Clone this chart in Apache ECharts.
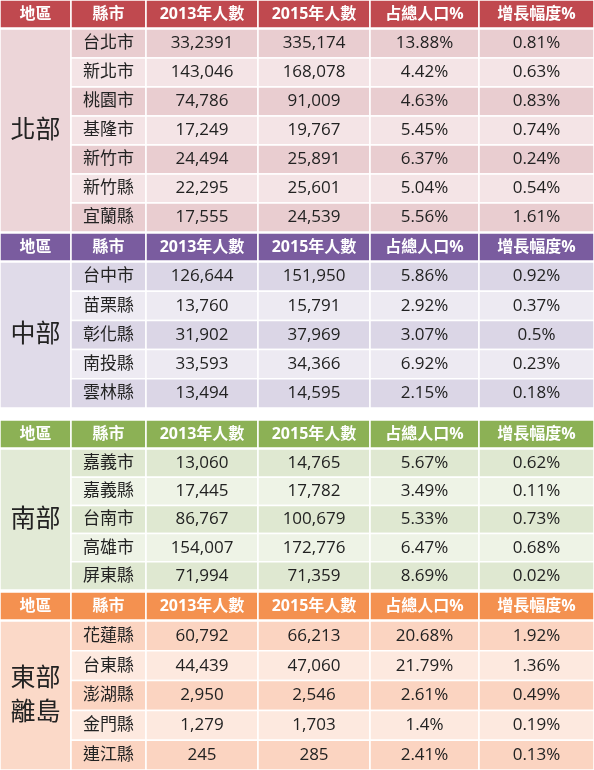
<!DOCTYPE html><html><head><meta charset="utf-8"><script src="https://cdn.jsdelivr.net/npm/echarts@6/dist/echarts.min.js"></script>
<style>html,body{margin:0;padding:0;background:#fff}#c{width:594px;height:770px}</style></head><body><div id="c"></div><script>
const headers=['地區','縣市','2013年人數','2015年人數','占總人口%','增長幅度%'];
const regions=['北部','中部','南部','東部\n離島'];
const northCities=['台北市','新北市','桃園市','基隆市','新竹市','新竹縣','宜蘭縣'];
const north2013=['33,2391','143,046','74,786','17,249','24,494','22,295','17,555'];
const north2015=['335,174','168,078','91,009','19,767','25,891','25,601','24,539'];
const northShare=['13.88%','4.42%','4.63%','5.45%','6.37%','5.04%','5.56%'];
const northGrowth=['0.81%','0.63%','0.83%','0.74%','0.24%','0.54%','1.61%'];
const centralCities=['台中市','苗栗縣','彰化縣','南投縣','雲林縣'];
const central2013=['126,644','13,760','31,902','33,593','13,494'];
const central2015=['151,950','15,791','37,969','34,366','14,595'];
const centralShare=['5.86%','2.92%','3.07%','6.92%','2.15%'];
const centralGrowth=['0.92%','0.37%','0.5%','0.23%','0.18%'];
const southCities=['嘉義市','嘉義縣','台南市','高雄市','屏東縣'];
const south2013=['13,060','17,445','86,767','154,007','71,994'];
const south2015=['14,765','17,782','100,679','172,776','71,359'];
const southShare=['5.67%','3.49%','5.33%','6.47%','8.69%'];
const southGrowth=['0.62%','0.11%','0.73%','0.68%','0.02%'];
const eastCities=['花蓮縣','台東縣','澎湖縣','金門縣','連江縣'];
const east2013=['60,792','44,439','2,950','1,279','245'];
const east2015=['66,213','47,060','2,546','1,703','285'];
const eastShare=['20.68%','21.79%','2.61%','1.4%','2.41%'];
const eastGrowth=['1.92%','1.36%','0.49%','0.19%','0.13%'];

const groups=[
 {cols:[northCities,north2013,north2015,northShare,northGrowth],top:0,end:232,head:'#c0494f',a:'#e9cdd0',b:'#f4e4e6',reg:'#ecd5d8'},
 {cols:[centralCities,central2013,central2015,centralShare,centralGrowth],top:233,end:408,head:'#7a5c9f',a:'#dbd6e6',b:'#edeaf2',reg:'#e0dbe9'},
 {cols:[southCities,south2013,south2015,southShare,southGrowth],top:420,end:590,head:'#8cb155',a:'#dfe8d1',b:'#eef3e6',reg:'#e2ead6'},
 {cols:[eastCities,east2013,east2015,eastShare,eastGrowth],top:592,end:770,head:'#f49150',a:'#fbd4c1',b:'#fde9df',reg:'#fbd9c8'}
];
const colEdges=[0,71,146,258,370,479,594];
const cells=[];
groups.forEach((g,gi)=>{
  const hh=28;
  for(let c=0;c<6;c++) cells.push([colEdges[c],colEdges[c+1],g.top,g.top+hh,headers[c],g.head,'#fff',16,1]);
  const n=g.cols[0].length, ds=g.top+hh+1, rh=(g.end-ds)/n;
  cells.push([0,71,ds,g.end,regions[gi],g.reg,'#222',25,0]);
  for(let r=0;r<n;r++){
    for(let c=0;c<5;c++) cells.push([colEdges[c+1],colEdges[c+2],ds+r*rh,ds+(r+1)*rh,g.cols[c][r],r%2?g.b:g.a,'#222',17,0]);
  }
});
const chart=echarts.init(document.getElementById('c'));
chart.setOption({animation:false,
 grid:{left:0,right:0,top:0,bottom:0},
 xAxis:{type:'value',min:0,max:594,show:false},
 yAxis:{type:'value',min:0,max:770,inverse:true,show:false},
 series:[{type:'custom',data:cells,renderItem:(p,api)=>{
   const d=cells[p.dataIndex];
   const p0=api.coord([d[0],d[2]]),p1=api.coord([d[1],d[3]]);
   const x=p0[0],y=p0[1],w=p1[0]-p0[0],h=p1[1]-p0[1];
   return {type:'group',children:[
     {type:'rect',shape:{x:x,y:y,width:w,height:h},style:{fill:d[5],stroke:'#fff',lineWidth:1.5}},
     {type:'text',style:{text:d[4],x:x+w/2,y:y+h/2,align:'center',verticalAlign:'middle',fill:d[6],
       font:(d[8]?'bold ':'')+d[7]+'px "Open Sans","Noto Sans CJK TC",sans-serif',lineHeight:d[7]*1.35}}
   ]};
 }}]
});
</script></body></html>
